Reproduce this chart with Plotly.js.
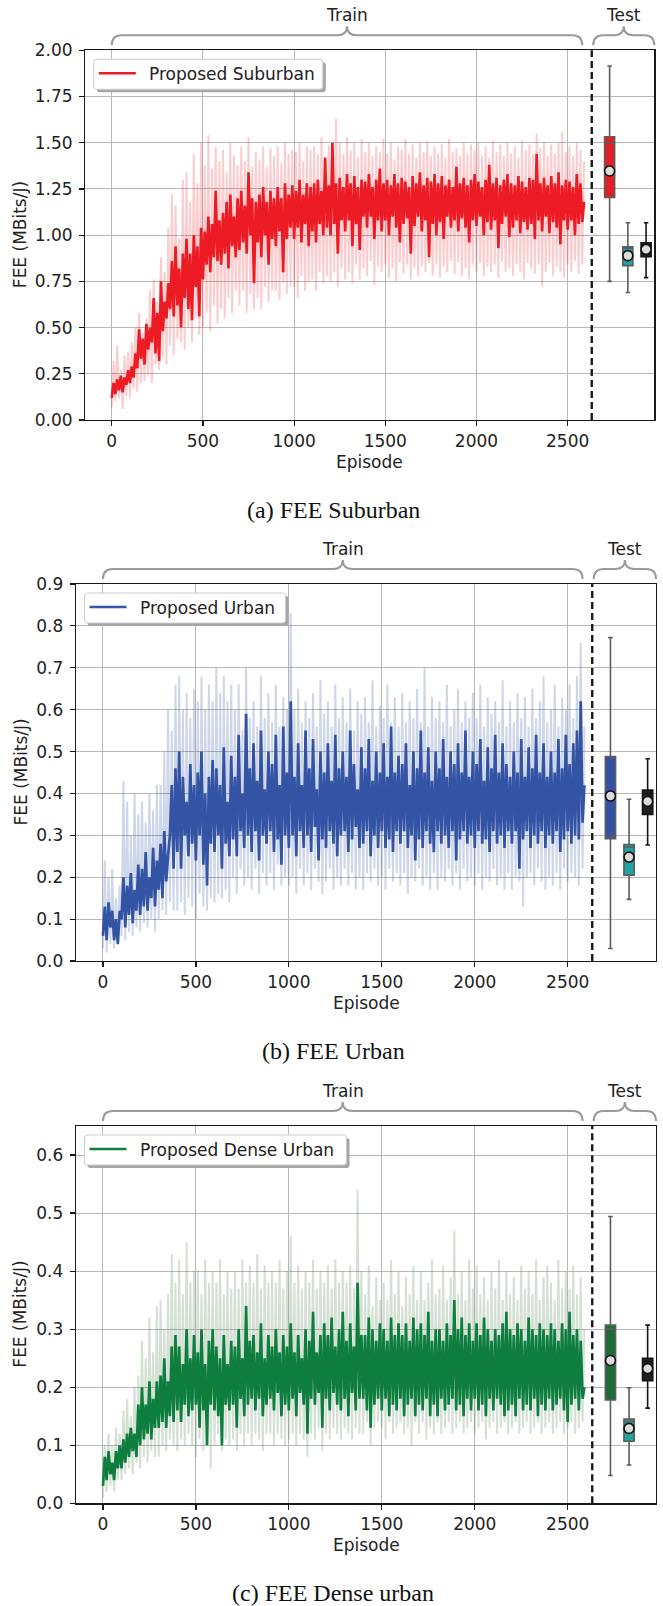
<!DOCTYPE html>
<html>
<head>
<meta charset="utf-8">
<script src="https://cdn.plot.ly/plotly-3.0.1.min.js"></script>
<style>
  html, body { margin: 0; padding: 0; background: #fff; }
  #chart { width: 663px; height: 1606px; }
</style>
</head>
<body>
<div id="chart"></div>
<script>
// ---- Training curves: FEE per episode, one value every 10 episodes (0 .. 2590) ----
const EPISODE_START = 0;
const EPISODE_STEP = 10;

const suburbanRaw = [
  0.07,0.32,0.1,0.4,0.12,0.27,0.06,0.35,0.13,0.37,
  0.12,0.42,0.17,0.5,0.15,0.58,0.2,0.47,0.21,0.55,
  0.24,0.7,0.2,0.76,0.3,0.64,0.27,0.88,0.34,0.8,
  0.3,1.04,0.4,1.22,0.35,1.16,0.44,0.98,0.42,1.3,
  0.38,1.34,0.5,1.18,0.42,1.44,0.55,1.28,0.46,1.5,
  0.5,1.38,0.58,1.54,0.48,1.36,0.62,1.48,0.52,1.4,
  0.6,1.46,0.55,1.34,0.66,1.5,0.58,1.43,0.7,1.38,
  0.62,1.48,0.7,1.4,0.58,1.53,0.68,1.37,0.6,1.45,
  0.66,1.41,0.6,1.48,0.72,1.37,0.64,1.47,0.7,1.43,
  0.7,1.48,0.65,1.39,0.74,1.5,0.68,1.44,0.72,1.46,
  0.72,1.45,0.66,1.5,0.78,1.4,0.7,1.48,0.75,1.46,
  0.76,1.48,0.7,1.44,0.8,1.53,0.74,1.41,0.78,1.49,
  0.75,1.47,0.8,1.63,0.72,1.5,0.82,1.44,0.76,1.53,
  0.8,1.46,0.74,1.5,0.84,1.42,0.76,1.52,0.82,1.45,
  0.78,1.5,0.86,1.43,0.73,1.48,0.83,1.45,0.8,1.52,
  0.84,1.44,0.77,1.5,0.82,1.41,0.75,1.48,0.85,1.46,
  0.79,1.52,0.84,1.44,0.76,1.49,0.82,1.42,0.78,1.5,
  0.83,1.45,0.8,1.51,0.85,1.43,0.78,1.48,0.84,1.44,
  0.77,1.49,0.83,1.42,0.8,1.52,0.86,1.45,0.79,1.47,
  0.85,1.43,0.78,1.5,0.82,1.44,0.76,1.49,0.84,1.46,
  0.8,1.5,0.85,1.43,0.78,1.48,0.83,1.42,0.8,1.51,
  0.84,1.45,0.77,1.49,0.86,1.43,0.8,1.5,0.82,1.44,
  0.78,1.48,0.84,1.42,0.8,1.51,0.76,1.46,0.85,1.49,
  0.82,1.44,0.79,1.55,0.84,1.47,0.72,1.5,0.8,1.43,
  0.85,1.49,0.78,1.44,0.83,1.5,0.8,1.56,0.77,1.45,
  0.84,1.48,0.8,1.43,0.86,1.5,0.79,1.46,0.84,1.4
];
const suburbanAvg = [
  0.12,0.2,0.14,0.22,0.16,0.24,0.15,0.23,0.19,0.27,
  0.2,0.29,0.23,0.36,0.28,0.49,0.33,0.44,0.3,0.52,
  0.38,0.5,0.42,0.66,0.36,0.58,0.32,0.75,0.48,0.64,
  0.55,0.74,0.6,0.86,0.56,0.94,0.62,0.82,0.5,0.9,
  0.66,0.98,0.6,0.9,0.54,1.0,0.72,0.94,0.56,1.04,
  0.76,1.02,0.84,1.1,0.8,1.06,0.88,1.24,0.86,1.08,
  0.84,1.12,0.9,1.18,0.82,1.22,0.94,1.1,0.88,1.2,
  0.92,1.24,0.96,1.16,0.9,1.34,1.0,1.2,0.74,1.18,
  0.96,1.22,0.88,1.26,1.0,1.18,0.84,1.24,0.98,1.2,
  0.94,1.26,1.02,1.2,0.8,1.28,0.98,1.22,1.04,1.27,
  0.98,1.24,1.04,1.3,0.96,1.22,1.06,1.28,0.94,1.26,
  1.02,1.28,0.96,1.3,1.06,1.24,1.0,1.42,1.04,1.27,
  1.0,1.5,1.06,1.28,0.9,1.31,1.08,1.26,1.02,1.33,
  1.08,1.28,0.94,1.32,1.06,1.26,0.92,1.3,1.1,1.29,
  1.04,1.33,1.1,1.26,0.98,1.3,1.08,1.36,1.02,1.28,
  1.08,1.3,1.0,1.27,1.1,1.33,1.04,1.28,0.96,1.31,
  1.06,1.29,1.09,1.26,0.9,1.32,1.05,1.28,1.1,1.34,
  1.02,1.27,1.08,1.31,0.88,1.29,1.06,1.33,1.0,1.28,
  1.07,1.32,0.98,1.27,1.1,1.3,1.04,1.26,1.08,1.37,
  1.02,1.28,1.09,1.31,1.04,1.27,0.96,1.3,1.08,1.33,
  1.05,1.29,1.1,1.26,1.0,1.3,1.07,1.38,1.03,1.28,
  1.08,1.31,0.93,1.27,1.06,1.3,1.1,1.33,0.99,1.28,
  1.04,1.27,1.08,1.32,1.01,1.29,1.07,1.26,1.03,1.31,
  1.06,1.3,0.98,1.44,1.08,1.28,1.02,1.31,1.1,1.27,
  1.01,1.32,1.07,1.28,1.04,1.34,0.95,1.27,1.08,1.3,
  1.03,1.29,1.08,1.26,1.0,1.33,1.06,1.28,1.07,1.18
];

const urbanRaw = [
  0.03,0.24,0.02,0.2,0.04,0.22,0.03,0.15,0.05,0.18,
  0.06,0.43,0.05,0.38,0.07,0.3,0.06,0.4,0.08,0.35,
  0.07,0.38,0.09,0.33,0.08,0.4,0.1,0.36,0.07,0.42,
  0.1,0.42,0.12,0.5,0.11,0.6,0.14,0.55,0.12,0.66,
  0.12,0.68,0.14,0.6,0.11,0.64,0.15,0.58,0.13,0.65,
  0.1,0.62,0.16,0.68,0.13,0.6,0.12,0.66,0.15,0.62,
  0.14,0.7,0.16,0.64,0.15,0.68,0.17,0.62,0.14,0.66,
  0.2,0.6,0.16,0.66,0.22,0.55,0.18,0.7,0.2,0.58,
  0.17,0.62,0.22,0.56,0.16,0.68,0.21,0.58,0.18,0.64,
  0.21,0.57,0.17,0.66,0.23,0.56,0.18,0.63,0.2,0.6,
  0.18,0.83,0.2,0.6,0.16,0.65,0.22,0.57,0.18,0.62,
  0.21,0.58,0.17,0.64,0.22,0.56,0.19,0.67,0.16,0.59,
  0.19,0.62,0.22,0.56,0.17,0.66,0.2,0.58,0.18,0.63,
  0.22,0.57,0.18,0.65,0.21,0.55,0.17,0.62,0.2,0.59,
  0.17,0.63,0.21,0.57,0.19,0.67,0.22,0.56,0.18,0.61,
  0.2,0.58,0.17,0.66,0.22,0.57,0.19,0.63,0.21,0.56,
  0.18,0.64,0.21,0.57,0.16,0.62,0.2,0.58,0.19,0.65,
  0.22,0.57,0.18,0.7,0.2,0.56,0.17,0.63,0.21,0.58,
  0.17,0.62,0.2,0.57,0.19,0.66,0.22,0.56,0.18,0.6,
  0.21,0.65,0.17,0.57,0.22,0.62,0.19,0.58,0.2,0.64,
  0.18,0.58,0.21,0.66,0.17,0.56,0.2,0.63,0.19,0.59,
  0.22,0.62,0.18,0.57,0.2,0.67,0.17,0.56,0.21,0.62,
  0.17,0.57,0.2,0.64,0.19,0.58,0.13,0.63,0.2,0.56,
  0.21,0.65,0.18,0.58,0.22,0.62,0.19,0.68,0.17,0.57,
  0.2,0.6,0.18,0.66,0.21,0.56,0.17,0.63,0.22,0.6,
  0.19,0.66,0.21,0.58,0.2,0.68,0.18,0.76,0.22,0.56
];
const urbanAvg = [
  0.06,0.13,0.05,0.14,0.08,0.12,0.05,0.1,0.04,0.12,
  0.1,0.2,0.08,0.18,0.11,0.21,0.09,0.17,0.12,0.23,
  0.11,0.22,0.13,0.26,0.12,0.2,0.15,0.27,0.13,0.24,
  0.17,0.28,0.15,0.31,0.19,0.25,0.3,0.42,0.22,0.46,
  0.26,0.5,0.22,0.44,0.3,0.38,0.25,0.47,0.28,0.42,
  0.24,0.45,0.3,0.5,0.23,0.4,0.18,0.44,0.28,0.48,
  0.26,0.46,0.3,0.42,0.22,0.51,0.28,0.38,0.25,0.49,
  0.29,0.44,0.25,0.54,0.31,0.4,0.27,0.59,0.3,0.46,
  0.26,0.52,0.31,0.43,0.24,0.55,0.3,0.41,0.28,0.5,
  0.31,0.47,0.26,0.54,0.29,0.42,0.23,0.56,0.3,0.45,
  0.27,0.62,0.3,0.44,0.25,0.52,0.31,0.42,0.27,0.55,
  0.3,0.46,0.26,0.53,0.32,0.41,0.24,0.5,0.29,0.45,
  0.27,0.52,0.31,0.43,0.28,0.54,0.25,0.46,0.3,0.5,
  0.31,0.44,0.26,0.55,0.29,0.47,0.32,0.41,0.27,0.51,
  0.28,0.46,0.31,0.53,0.25,0.43,0.3,0.5,0.27,0.45,
  0.31,0.52,0.27,0.44,0.29,0.56,0.26,0.45,0.31,0.49,
  0.28,0.47,0.31,0.52,0.27,0.42,0.3,0.5,0.24,0.46,
  0.29,0.55,0.27,0.45,0.31,0.51,0.28,0.43,0.26,0.5,
  0.31,0.46,0.28,0.53,0.3,0.44,0.27,0.5,0.31,0.47,
  0.24,0.52,0.29,0.45,0.31,0.55,0.28,0.44,0.3,0.5,
  0.27,0.47,0.31,0.53,0.28,0.43,0.29,0.51,0.26,0.46,
  0.31,0.54,0.28,0.45,0.3,0.52,0.27,0.47,0.31,0.44,
  0.28,0.5,0.31,0.45,0.22,0.53,0.29,0.44,0.31,0.51,
  0.27,0.46,0.3,0.54,0.28,0.45,0.31,0.52,0.27,0.44,
  0.3,0.5,0.28,0.45,0.31,0.53,0.26,0.46,0.29,0.54,
  0.31,0.47,0.28,0.52,0.3,0.55,0.29,0.62,0.33,0.42
];

const denseRaw = [
  0.01,0.1,0.02,0.12,0.03,0.1,0.02,0.13,0.04,0.12,
  0.04,0.16,0.05,0.18,0.06,0.15,0.05,0.2,0.07,0.22,
  0.06,0.28,0.08,0.25,0.07,0.32,0.09,0.26,0.08,0.34,
  0.08,0.35,0.1,0.3,0.09,0.36,0.11,0.43,0.1,0.38,
  0.09,0.42,0.11,0.36,0.1,0.45,0.12,0.38,0.1,0.4,
  0.08,0.4,0.11,0.36,0.09,0.42,0.12,0.38,0.06,0.4,
  0.1,0.38,0.12,0.42,0.09,0.36,0.11,0.4,0.1,0.37,
  0.11,0.4,0.09,0.37,0.12,0.42,0.1,0.38,0.12,0.41,
  0.1,0.38,0.12,0.43,0.11,0.37,0.09,0.41,0.12,0.38,
  0.12,0.4,0.1,0.38,0.12,0.42,0.11,0.37,0.1,0.4,
  0.11,0.46,0.12,0.38,0.1,0.41,0.12,0.37,0.11,0.4,
  0.08,0.38,0.12,0.42,0.11,0.37,0.13,0.4,0.09,0.38,
  0.12,0.41,0.11,0.37,0.13,0.42,0.12,0.38,0.11,0.4,
  0.13,0.38,0.12,0.41,0.11,0.37,0.13,0.54,0.12,0.4,
  0.12,0.36,0.14,0.41,0.1,0.34,0.13,0.39,0.14,0.35,
  0.13,0.38,0.11,0.35,0.14,0.42,0.12,0.36,0.13,0.4,
  0.14,0.34,0.12,0.39,0.13,0.36,0.1,0.41,0.14,0.35,
  0.12,0.4,0.14,0.35,0.11,0.38,0.13,0.42,0.12,0.36,
  0.14,0.37,0.12,0.41,0.13,0.35,0.14,0.39,0.12,0.47,
  0.13,0.36,0.14,0.4,0.12,0.35,0.13,0.42,0.14,0.37,
  0.12,0.41,0.13,0.36,0.14,0.39,0.11,0.35,0.13,0.4,
  0.14,0.37,0.12,0.42,0.13,0.35,0.14,0.4,0.12,0.36,
  0.13,0.39,0.14,0.35,0.12,0.41,0.13,0.37,0.14,0.4,
  0.12,0.36,0.13,0.42,0.14,0.35,0.12,0.39,0.13,0.41,
  0.14,0.38,0.12,0.35,0.13,0.42,0.14,0.37,0.12,0.4,
  0.13,0.37,0.14,0.41,0.12,0.36,0.13,0.39,0.14,0.3
];
const denseAvg = [
  0.03,0.08,0.04,0.09,0.05,0.07,0.04,0.09,0.06,0.1,
  0.06,0.11,0.07,0.12,0.08,0.13,0.09,0.12,0.08,0.17,
  0.1,0.2,0.11,0.17,0.12,0.21,0.11,0.18,0.13,0.21,
  0.13,0.22,0.14,0.25,0.13,0.21,0.15,0.27,0.14,0.29,
  0.16,0.27,0.14,0.24,0.17,0.3,0.15,0.25,0.16,0.29,
  0.17,0.26,0.13,0.3,0.16,0.24,0.1,0.28,0.17,0.3,
  0.16,0.27,0.15,0.25,0.1,0.29,0.17,0.24,0.16,0.28,
  0.17,0.27,0.13,0.3,0.18,0.25,0.15,0.34,0.17,0.28,
  0.18,0.29,0.16,0.26,0.18,0.31,0.15,0.25,0.17,0.29,
  0.18,0.27,0.16,0.3,0.19,0.26,0.15,0.29,0.17,0.27,
  0.16,0.31,0.18,0.26,0.15,0.29,0.19,0.25,0.17,0.3,
  0.12,0.28,0.18,0.33,0.17,0.26,0.19,0.29,0.13,0.31,
  0.18,0.29,0.16,0.32,0.19,0.27,0.17,0.3,0.16,0.33,
  0.18,0.28,0.15,0.31,0.19,0.27,0.16,0.38,0.18,0.29,
  0.18,0.29,0.16,0.32,0.13,0.3,0.17,0.28,0.18,0.31,
  0.16,0.3,0.18,0.28,0.15,0.32,0.17,0.29,0.16,0.31,
  0.18,0.29,0.15,0.31,0.17,0.28,0.18,0.32,0.15,0.3,
  0.17,0.31,0.16,0.29,0.18,0.33,0.15,0.28,0.17,0.3,
  0.15,0.3,0.18,0.28,0.16,0.31,0.17,0.29,0.18,0.35,
  0.16,0.3,0.17,0.32,0.15,0.29,0.18,0.31,0.16,0.28,
  0.18,0.31,0.16,0.29,0.17,0.32,0.15,0.3,0.18,0.28,
  0.16,0.3,0.18,0.29,0.17,0.31,0.15,0.33,0.16,0.3,
  0.17,0.29,0.15,0.31,0.18,0.3,0.16,0.28,0.17,0.32,
  0.16,0.3,0.18,0.29,0.15,0.31,0.17,0.3,0.16,0.29,
  0.18,0.31,0.16,0.3,0.17,0.28,0.18,0.31,0.16,0.3,
  0.14,0.33,0.17,0.29,0.18,0.3,0.16,0.28,0.18,0.2
];

// ---- Test results: box statistics for the three evaluated policies per scenario ----
// rows: suburban, urban, dense urban; columns: proposed, second policy, third policy
const testLower  = [[0.75, 0.69, 0.77],   [0.03, 0.147, 0.277],  [0.048, 0.066, 0.164]];
const testQ1     = [[1.204, 0.835, 0.883],[0.292, 0.205, 0.35],  [0.178, 0.107, 0.211]];
const testMedian = [[1.5, 0.93, 0.95],    [0.297, 0.272, 0.40],  [0.30, 0.141, 0.245]];
const testQ3     = [[1.532, 0.937, 0.959],[0.488, 0.278, 0.408], [0.307, 0.145, 0.25]];
const testUpper  = [[1.915, 1.067, 1.067],[0.772, 0.386, 0.483], [0.494, 0.199, 0.307]];
const testMean   = [[1.347, 0.889, 0.923],[0.394, 0.248, 0.381], [0.246, 0.129, 0.232]];

const seriesNames = ['Proposed Suburban', 'Proposed Urban', 'Proposed Dense Urban'];
const captions = ['(a) FEE Suburban', '(b) FEE Urban', '(c) FEE Dense urban'];
const xTicks = [0, 500, 1000, 1500, 2000, 2500];

// ---- Styling and layout ----
const W = 663, H = 1606;
const X_RANGE = [-145, 2975];
const TRAIN_END = 2632;          // dashed separator between training and test
const BOX_X = [2730, 2830, 2930];
const BOX_WIDTH = 55;

const mainColors  = ['#ed1c24', '#3353a4', '#0e7e3e'];
const lightColors = ['rgba(238,29,36,0.22)', 'rgba(52,82,164,0.24)', 'rgba(95,140,95,0.27)'];
const boxFill     = [['#e21f26', '#1fa3a3', '#202020'], ['#3452a3', '#1fa3a3', '#202020'], ['#1d6e36', '#1fa3a3', '#202020']];
const boxEdge     = ['#5c5c5c', '#5c5c5c', '#151515'];

const allRaw = [suburbanRaw, urbanRaw, denseRaw];
const allAvg = [suburbanAvg, urbanAvg, denseAvg];

// panel frames in pixels
const panels = [
  { left: 85.3, right: 654.3, top: 50.3, bottom: 420,    yRange: [0, 2],    dtick: 0.25, fmt: '.2f', legendW: 229 },
  { left: 76,   right: 656,   top: 584,  bottom: 961,    yRange: [0, 0.9],  dtick: 0.1,  fmt: '.1f', legendW: 201 },
  { left: 76,   right: 656,   top: 1126, bottom: 1503.3, yRange: [0, 0.65], dtick: 0.1,  fmt: '.1f', legendW: 262 }
];

const FONT = 'DejaVu Sans, Verdana, sans-serif';
const TXT = '#222222';
const X = px => px / W;
const Y = py => 1 - py / H;
const epToPx = (p, ep) => p.left + (ep - X_RANGE[0]) / (X_RANGE[1] - X_RANGE[0]) * (p.right - p.left);

function bracePath(x0, x1, xm, yEnd, yLine, yPeak, r) {
  return `M ${X(x0)},${Y(yEnd)} Q ${X(x0)},${Y(yLine)} ${X(x0 + r)},${Y(yLine)} ` +
         `L ${X(xm - r)},${Y(yLine)} Q ${X(xm)},${Y(yLine)} ${X(xm)},${Y(yPeak)} ` +
         `Q ${X(xm)},${Y(yLine)} ${X(xm + r)},${Y(yLine)} ` +
         `L ${X(x1 - r)},${Y(yLine)} Q ${X(x1)},${Y(yLine)} ${X(x1)},${Y(yEnd)}`;
}
function roundRect(x0, y0, x1, y1, r) {
  return `M ${X(x0 + r)},${Y(y0)} L ${X(x1 - r)},${Y(y0)} Q ${X(x1)},${Y(y0)} ${X(x1)},${Y(y0 + r)} ` +
         `L ${X(x1)},${Y(y1 - r)} Q ${X(x1)},${Y(y1)} ${X(x1 - r)},${Y(y1)} ` +
         `L ${X(x0 + r)},${Y(y1)} Q ${X(x0)},${Y(y1)} ${X(x0)},${Y(y1 - r)} ` +
         `L ${X(x0)},${Y(y0 + r)} Q ${X(x0)},${Y(y0)} ${X(x0 + r)},${Y(y0)} Z`;
}

const traces = [];
const shapes = [];
const annotations = [];
const layout = {
  width: W, height: H,
  margin: { l: 0, r: 0, t: 0, b: 0 },
  paper_bgcolor: '#ffffff', plot_bgcolor: '#ffffff',
  showlegend: false,
  boxmode: 'overlay',
  font: { family: FONT, size: 17, color: TXT }
};

panels.forEach((p, i) => {
  const sfx = i === 0 ? '' : String(i + 1);
  const xa = 'x' + sfx, ya = 'y' + sfx;

  layout['xaxis' + sfx] = {
    domain: [X(p.left), X(p.right)], range: X_RANGE, anchor: ya,
    tickvals: xTicks, ticktext: xTicks.map(String),
    showgrid: true, gridcolor: '#b8b8b8', gridwidth: 1, zeroline: false,
    showline: true, linecolor: '#1a1a1a', linewidth: 1.3, mirror: true,
    ticks: 'outside', ticklen: 5, tickwidth: 1.2, tickcolor: '#1a1a1a',
    tickfont: { family: FONT, size: 17, color: TXT }
  };
  layout['yaxis' + sfx] = {
    domain: [Y(p.bottom), Y(p.top)], range: p.yRange, anchor: xa,
    dtick: p.dtick, tick0: 0, tickformat: p.fmt,
    showgrid: true, gridcolor: '#b8b8b8', gridwidth: 1, zeroline: false,
    showline: true, linecolor: '#1a1a1a', linewidth: 1.3, mirror: true,
    ticks: 'outside', ticklen: 5, tickwidth: 1.2, tickcolor: '#1a1a1a',
    ticklabelstandoff: 3,
    tickfont: { family: FONT, size: 17, color: TXT }
  };

  // training curves: per-episode values behind, running curve on top
  traces.push({
    type: 'scatter', mode: 'lines', xaxis: xa, yaxis: ya,
    x0: EPISODE_START, dx: EPISODE_STEP, y: allRaw[i],
    line: { color: lightColors[i], width: 2, simplify: false },
    hoverinfo: 'skip', showlegend: false
  });
  traces.push({
    type: 'scatter', mode: 'lines', xaxis: xa, yaxis: ya, name: seriesNames[i],
    x0: EPISODE_START, dx: EPISODE_STEP, y: allAvg[i],
    line: { color: mainColors[i], width: 2.7, simplify: false },
    showlegend: false
  });

  // test box plots
  for (let k = 0; k < 3; k++) {
    traces.push({
      type: 'box', xaxis: xa, yaxis: ya,
      x: [BOX_X[k]],
      lowerfence: [testLower[i][k]], q1: [testQ1[i][k]], median: [testMedian[i][k]],
      q3: [testQ3[i][k]], upperfence: [testUpper[i][k]],
      width: BOX_WIDTH, whiskerwidth: 0.45,
      fillcolor: boxFill[i][k], line: { color: boxEdge[k], width: 1.6 },
      boxpoints: false, showlegend: false, hoverinfo: 'skip'
    });
  }
  traces.push({
    type: 'scatter', mode: 'markers', xaxis: xa, yaxis: ya,
    x: BOX_X, y: testMean[i],
    marker: { symbol: 'circle', size: 10, color: '#dcdcdc', line: { color: '#111', width: 1.6 } },
    showlegend: false, hoverinfo: 'skip'
  });

  // train / test separator
  shapes.push({
    type: 'line', xref: xa, yref: ya + ' domain', x0: TRAIN_END, x1: TRAIN_END, y0: 0, y1: 1,
    line: { color: '#1a1a1a', width: 2.4, dash: '7px,4px' }, layer: 'above'
  });

  // braces above the panel
  const yEnd = p.top - 5, yLine = p.top - 15, yPeak = p.top - 24;
  const trL = epToPx(p, 0), trR = epToPx(p, 2580), trM = (trL + trR) / 2;
  const teL = epToPx(p, 2640), teR = p.right, teM = (teL + teR) / 2;
  shapes.push({ type: 'path', xref: 'paper', yref: 'paper', layer: 'above',
    path: bracePath(trL, trR, trM, yEnd, yLine, yPeak, 10), line: { color: '#9a9a9a', width: 2 } });
  shapes.push({ type: 'path', xref: 'paper', yref: 'paper', layer: 'above',
    path: bracePath(teL, teR, teM, yEnd, yLine, yPeak, 10), line: { color: '#9a9a9a', width: 2 } });
  annotations.push({ xref: 'paper', yref: 'paper', x: X(trM), y: Y(p.top - 35), text: 'Train',
    showarrow: false, xanchor: 'center', yanchor: 'middle', font: { family: FONT, size: 17, color: TXT } });
  annotations.push({ xref: 'paper', yref: 'paper', x: X(teM), y: Y(p.top - 35), text: 'Test',
    showarrow: false, xanchor: 'center', yanchor: 'middle', font: { family: FONT, size: 17, color: TXT } });

  // legend box
  const lx0 = p.left + 8.5, ly0 = p.top + 9, lx1 = lx0 + p.legendW, ly1 = ly0 + 30;
  shapes.push({ type: 'path', xref: 'paper', yref: 'paper', layer: 'above',
    path: roundRect(lx0 + 3, ly0 + 3, lx1 + 3, ly1 + 3, 3), fillcolor: '#a6a6a6', line: { width: 0 } });
  shapes.push({ type: 'path', xref: 'paper', yref: 'paper', layer: 'above',
    path: roundRect(lx0, ly0, lx1, ly1, 3), fillcolor: '#ffffff', line: { color: '#cccccc', width: 1 } });
  shapes.push({ type: 'line', xref: 'paper', yref: 'paper', layer: 'above',
    x0: X(lx0 + 5), x1: X(lx0 + 42), y0: Y(ly0 + 14), y1: Y(ly0 + 14),
    line: { color: mainColors[i], width: 2.4 } });
  annotations.push({ xref: 'paper', yref: 'paper', x: X(lx0 + 53), y: Y(ly0 + 14.5), text: seriesNames[i],
    showarrow: false, xanchor: 'left', yanchor: 'middle', font: { family: FONT, size: 17, color: TXT } });

  // axis titles
  annotations.push({ xref: 'paper', yref: 'paper', x: X(20), y: Y((p.top + p.bottom) / 2), text: 'FEE (MBits/J)',
    textangle: -90, showarrow: false, xanchor: 'center', yanchor: 'middle', font: { family: FONT, size: 17, color: TXT } });
  annotations.push({ xref: 'paper', yref: 'paper', x: X((p.left + p.right) / 2), y: Y(p.bottom + 42), text: 'Episode',
    showarrow: false, xanchor: 'center', yanchor: 'middle', font: { family: FONT, size: 17, color: TXT } });

  // caption
  annotations.push({ xref: 'paper', yref: 'paper', x: X(333), y: Y(p.bottom + 90), text: captions[i],
    showarrow: false, xanchor: 'center', yanchor: 'middle',
    font: { family: 'Liberation Serif, Times New Roman, serif', size: 24, color: '#111' } });
});

layout.shapes = shapes;
layout.annotations = annotations;

Plotly.newPlot('chart', traces, layout, { displayModeBar: false, staticPlot: true });
</script>
</body>
</html>
